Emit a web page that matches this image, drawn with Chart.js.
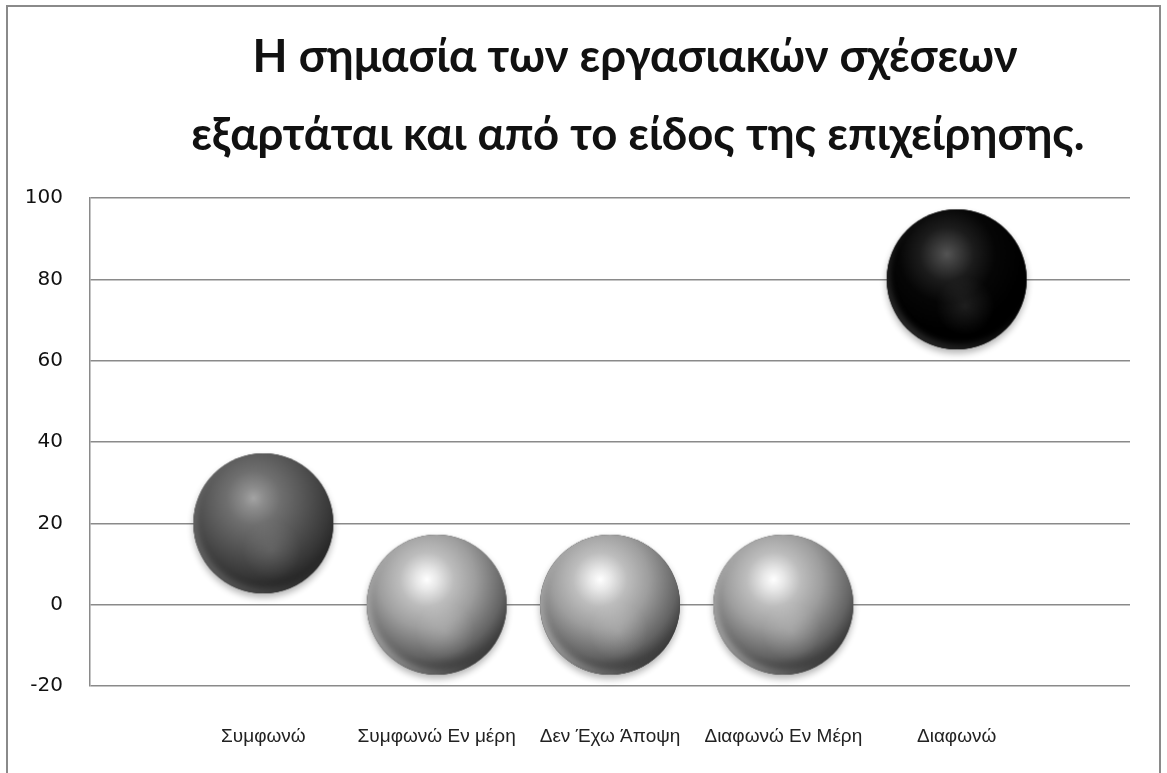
<!DOCTYPE html>
<html>
<head>
<meta charset="utf-8">
<script src="https://cdn.jsdelivr.net/npm/chart.js@4"></script>
<style>
  html, body { margin: 0; padding: 0; background: #fff; }
  #wrap { position: relative; width: 1167px; height: 773px; overflow: hidden; }
  canvas { display: block; }
</style>
</head>
<body>
<div id="wrap"><canvas id="chart" width="1167" height="773"></canvas></div>
<script>
// Survey answers and the share of respondents for each one
const categories = ['Συμφωνώ', 'Συμφωνώ Εν μέρη', 'Δεν Έχω Άποψη', 'Διαφωνώ Εν Μέρη', 'Διαφωνώ'];
const values = [20, 0, 0, 0, 80];
const yTicks = [-20, 0, 20, 40, 60, 80, 100];
const titleLines = ['Η σημασία των εργασιακών σχέσεων', 'εξαρτάται και από το είδος της επιχείρησης.'];

// Shading palettes for the glossy spheres
const TONES = {
  light: { stops: ['#ffffff', '#e8e8e8', '#bdbdbd', '#9e9e9e', '#646464', '#2c2c2c'], glow: 'rgba(255,255,255,0.16)', rim: 'rgba(235,235,235,0.55)' },
  dark:  { stops: ['#a4a4a4', '#8c8c8c', '#6f6f6f', '#585858', '#383838', '#1f1f1f'], glow: 'rgba(255,255,255,0.10)', rim: 'rgba(200,200,200,0.35)' },
  black: { stops: ['#545454', '#3e3e3e', '#1c1c1c', '#060606', '#000000', '#000000'], glow: 'rgba(255,255,255,0.10)', rim: 'rgba(160,160,160,0.30)' }
};
const sphereTones = ['dark', 'light', 'light', 'light', 'black'];
const SPHERE_R = 70;

function paintSphere(tone) {
  const t = TONES[tone];
  const r = SPHERE_R, pad = 12;
  const c = document.createElement('canvas');
  c.width = c.height = 2 * (r + pad);
  const g = c.getContext('2d');
  const cx = r + pad, cy = r + pad;

  // soft drop shadow under the ball
  g.save();
  g.shadowColor = 'rgba(0,0,0,0.30)';
  g.shadowBlur = 7;
  g.shadowOffsetY = 4;
  g.beginPath(); g.arc(cx, cy, r, 0, Math.PI * 2);
  g.fillStyle = t.stops[5];
  g.fill();
  g.restore();

  g.save();
  g.beginPath(); g.arc(cx, cy, r, 0, Math.PI * 2); g.clip();

  // main body: light falls from the upper left
  const hx = cx - 0.14 * r, hy = cy - 0.36 * r;
  const body = g.createRadialGradient(hx, hy, 0, hx, hy, 1.38 * r);
  body.addColorStop(0.00, t.stops[0]);
  body.addColorStop(0.11, t.stops[1]);
  body.addColorStop(0.28, t.stops[2]);
  body.addColorStop(0.50, t.stops[3]);
  body.addColorStop(0.80, t.stops[4]);
  body.addColorStop(1.00, t.stops[5]);
  g.fillStyle = body;
  g.fillRect(0, 0, c.width, c.height);

  // faint secondary glow in the lower half
  const gx = cx + 0.12 * r, gy = cy + 0.38 * r;
  const glow = g.createRadialGradient(gx, gy, 0, gx, gy, 0.42 * r);
  glow.addColorStop(0, t.glow);
  glow.addColorStop(1, 'rgba(255,255,255,0)');
  g.fillStyle = glow;
  g.fillRect(0, 0, c.width, c.height);

  // reflected rim along the bottom-left edge
  g.filter = 'blur(3px)';
  g.beginPath();
  g.arc(cx, cy, r + 4, 0, Math.PI * 2);
  g.arc(cx + 0.04 * r, cy - 0.07 * r, r, 0, Math.PI * 2, true);
  const rimFade = g.createLinearGradient(cx - r, cy + r, cx + r, cy);
  rimFade.addColorStop(0, t.rim);
  rimFade.addColorStop(0.6, t.rim.replace(/[\d.]+\)$/, '0.15)'));
  rimFade.addColorStop(1, 'rgba(255,255,255,0)');
  g.fillStyle = rimFade;
  g.fill('evenodd');
  g.filter = 'none';
  g.restore();
  return c;
}

const sphereImages = sphereTones.map(paintSphere);

// Outer frame and white background
const framePlugin = {
  id: 'frame',
  beforeDraw(chart) {
    const ctx = chart.ctx;
    ctx.save();
    ctx.fillStyle = '#fff';
    ctx.fillRect(0, 0, chart.width, chart.height);
    ctx.strokeStyle = '#8a8a8a';
    ctx.lineWidth = 2;
    ctx.beginPath();
    ctx.moveTo(7, chart.height + 5);
    ctx.lineTo(7, 6);
    ctx.lineTo(1160, 6);
    ctx.lineTo(1160, chart.height + 5);
    ctx.stroke();
    ctx.restore();
  }
};

// Two-line heading
const headingPlugin = {
  id: 'heading',
  afterDraw(chart) {
    const ctx = chart.ctx;
    ctx.save();
    ctx.fillStyle = '#111';
    ctx.font = 'bold 45.5px Lato';
    ctx.textAlign = 'center';
    ctx.textBaseline = 'alphabetic';
    ctx.fillText(titleLines[0], 635, 72);
    ctx.fillText(titleLines[1], 638, 150);
    ctx.restore();
  }
};

new Chart(document.getElementById('chart'), {
  type: 'scatter',
  data: {
    datasets: [{
      data: values.map((v, i) => ({ x: i + 1, y: v })),
      pointStyle: sphereImages,
      pointRadius: SPHERE_R,
      pointHoverRadius: SPHERE_R,
      clip: false
    }]
  },
  options: {
    responsive: false,
    animation: false,
    events: [],
    layout: { autoPadding: false, padding: { top: 198, right: 37, bottom: 0, left: 0 } },
    plugins: {
      legend: { display: false },
      title: { display: false },
      tooltip: { enabled: false }
    },
    scales: {
      x: {
        type: 'linear',
        min: 0,
        max: categories.length + 1,
        afterBuildTicks(scale) {
          scale.ticks = categories.map((_, i) => ({ value: i + 1 }));
        },
        afterFit(scale) {
          scale.height = 87;
          scale.paddingLeft = 0;
          scale.paddingRight = 0;
        },
        grid: { display: false, drawTicks: false },
        border: { display: false },
        ticks: {
          autoSkip: false,
          maxRotation: 0,
          padding: 39,
          color: '#222',
          font: { family: 'Liberation Sans', size: 19 },
          callback: (v) => categories[v - 1]
        }
      },
      y: {
        min: yTicks[0],
        max: yTicks[yTicks.length - 1],
        afterBuildTicks(scale) {
          scale.ticks = yTicks.map(v => ({ value: v }));
        },
        afterFit(scale) { scale.width = 90; },
        grid: { color: '#8a8a8a', lineWidth: 1.5, drawTicks: false },
        border: { display: true, color: '#8a8a8a', width: 1.5 },
        ticks: {
          padding: 27,
          color: '#111',
          font: { family: 'DejaVu Sans', size: 20 }
        }
      }
    }
  },
  plugins: [framePlugin, headingPlugin]
});
</script>
</body>
</html>
